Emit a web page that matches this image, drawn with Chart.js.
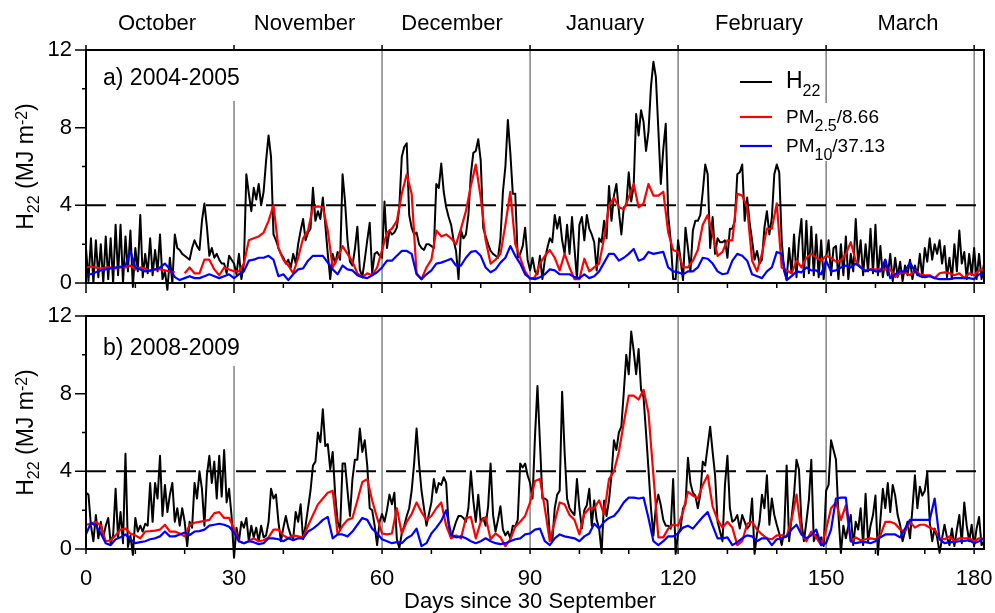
<!DOCTYPE html>
<html>
<head>
<meta charset="utf-8">
<title>H22 and PM ratios, 2004-2005 and 2008-2009</title>
<script src="https://cdn.jsdelivr.net/npm/chart.js@4.4.1/dist/chart.umd.min.js"></script>
<style>
  html, body { margin: 0; padding: 0; background: #fff; }
  #fig { position: relative; width: 995px; height: 613px; overflow: hidden; }
  #fig canvas { position: absolute; left: 0; }
  #panelA { top: 0; }
  #panelB { top: 300px; }
</style>
</head>
<body>
<div id="fig">
  <canvas id="panelA" width="995" height="300"></canvas>
  <canvas id="panelB" width="995" height="313"></canvas>
</div>
<script>
// ---- data ----
const DAY_MAX = 182;
const H22_STEP = 0.5;   // H22 is plotted twice a day
const PM_STEP = 1;      // the PM ratios are daily
const X_TICKS = [0, 30, 60, 90, 120, 150, 180];
const X_MINOR_STEP = 10;
const Y_TICKS = [0, 4, 8, 12];
const Y_MINOR = [2, 6, 10];
const MONTHS = ['October', 'November', 'December', 'January', 'February', 'March'];
const MONTH_MID = [14.4, 44.3, 74.2, 105.2, 136.4, 166.6];   // day each month name sits on
const THRESHOLD = 4;

// 2004-2005
const H22_0405 = [
  1.8,0.1, 2.3,0, 2.2,0.3, 2.0,0, 2.4,0.2, 2.3,0, 3.0,0.4, 3.0,0, 2.4,0.6, 2.7,-0.2,
  1.8,0.6, 3.5,0.3, 1.5,0.5, 2.3,0.4, 1.7,0.6, 2.5,0.2, 0.6,-0.35, 1.3,0, 2.5,1.8, 1.7,1.5,
  1.4,1.3, 1.2,1.8, 2.2,1.9, 1.7,3.2, 4.1,2.9, 1.4,1.8, 1.3,1.5, 1.2,1.0, 1.0,0.5, 1.4,1.2,
  1.0,0.45, 1.5,0.2, 1.0,5.6, 4.6,3.7, 4.9,4.3, 5.1,4.0, 4.7,6.3, 7.6,6.5, 2.5,2.2, 1.8,1.5,
  1.3,1.0, 1.2,0.8, 1.5,1.0, 2.0,2.7, 3.3,2.2, 2.6,2.8, 4.9,3.2, 3.7,3.3, 4.4,3.0, 1.5,0.2,
  1.5,1.0, 1.6,1.2, 5.6,4.2, 2.2,1.1, 0.9,1.75, 2.9,0.7, 0.3,1.2, 2.2,3.1, 0.5,1.5, 1.6,1.4,
  1.3,4.2, 1.8,2.7, 2.5,2.6, 2.85,3.9, 6.5,7.0, 7.2,3.5, 2.85,2.5, 2.6,2.0, 1.8,1.7, 2.0,2.0,
  1.9,1.8, 5.1,4.9, 6.15,4.7, 3.9,3.4, 3.0,2.2, 1.65,0.2, 2.7,2.3, 2.5,3.5, 5.6,6.7, 6.8,7.4,
  6.3,2.85, 2.4,2.0, 1.65,1.5, 1.4,1.3, 2.3,4.7, 6.0,8.4, 6.7,4.6, 4.6,1.3, 1.5,1.9, 2.85,1.2,
  0.65,1.3, 0.6,0.45, 1.4,0.2, 1.2,1.8, 2.3,2.1, 3.5,2.8, 3.4,2.2, 1.5,3.0, 1.5,3.4, 1.8,0.2,
  3.0,3.4, 2.2,3.5, 2.8,2.5, 2.1,0.65, 2.3,2.1, 3.2,2.3, 5.0,3.2, 4.5,5.1, 3.7,2.5, 3.9,4.0,
  5.7,4.2, 5.0,8.7, 7.6,8.9, 8.3,6.8, 7.8,10.1, 11.4,10.6, 7.9,5.1, 6.9,8.2, 3.5,2.2, 0.2,0.2,
  2.2,1.2, 0.15,2.85, 1.8,0.6, 2.7,3.2, 3.2,3.5, 4.7,6.1, 5.6,1.8, 3.4,1.5, 2.3,2.1, 2.1,2.2,
  1.3,2.8, 2.8,3.2, 5.6,5.7, 6.1,3.2, 4.4,3.1, 2.2,1.2, 1.65,1.0, 1.2,2.85, 3.7,2.5, 3.35,5.6,
  6.1,5.7, 2.2,0.6, 0.2,1.8, 0.5,2.5, 0.3,2.2, 3.3,0.3, 3.2,0.5, 2.9,0.4, 2.5,0.3, 2.2,0.2,
  1.3,2.2, 0.4,1.8, 1.9,0.2, 2.0,0.4, 2.4,0.2, 1.5,0.6, 3.3,1.0, 2.2,0.4, 2.0,0.6, 2.8,0.5,
  3.0,0.4, 1.9,0.3, 1.2,0.4, 1.5,0.1, 1.3,0.3, 1.1,0.1, 0.9,0.4, 1.2,0.2, 0.9,0.4, 1.5,0.3,
  1.8,1.1, 2.3,1.2, 2.0,1.5, 2.2,1.0, 1.9,0.3, 1.3,0.2, 2.0,0.6, 2.7,1.0, 1.6,0.2, 1.5,0.4,
  1.8,0.2, 1.5,0.2, 1.0
];
const PM25_0405 = [
  0.8,0.85,0.8,0.75,0.8,0.8,0.75,0.85,0.8,0.9,
  0.7,0.8,0.75,0.6,0.7,0.7,0.65,0.6,0.55,null,
  0.5,0.8,0.5,0.5,1.2,1.2,0.7,0.4,0.8,0.7,
  0.6,0.6,1.0,2.2,2.3,2.4,2.6,3.2,4.0,1.8,
  1.2,0.9,0.5,1.3,2.3,2.7,3.9,3.95,3.9,2.7,
  0.8,1.3,1.9,1.5,1.1,0.5,0.3,0.5,0.4,0.8,
  1.7,2.6,2.8,3.2,4.6,5.6,4.6,0.5,0.2,0.8,
  1.2,2.7,2.4,2.5,2.3,2.0,2.8,3.7,5.0,6.1,
  4.4,2.2,1.0,1.2,1.5,3.0,4.7,2.0,1.3,0.6,
  0.2,0.3,1.0,1.4,1.7,1.3,0.65,1.5,0.8,0.2,
  0.2,1.25,0.6,0.8,1.0,2.3,4.0,4.4,3.9,3.8,
  4.4,5.1,3.9,4.1,5.1,4.5,4.5,4.7,2.6,1.7,
  1.6,0.8,0.8,1.15,1.7,3.0,3.5,2.5,1.4,1.6,
  2.2,2.2,4.6,4.5,3.9,1.15,0.6,1.5,2.8,2.8,
  4.1,0.8,0.65,0.5,1.15,0.8,1.3,1.5,1.3,1.15,
  1.4,1.3,1.1,1.15,1.5,2.1,1.15,0.8,0.65,0.7,
  0.7,0.7,0.7,0.7,0.3,0.5,0.55,0.4,0.65,0.45,
  0.4,0.4,0.25,0.5,0.55,0.5,0.4,0.5,0.25,0.5,
  0.4,0.65,0.7
];
const PM10_0405 = [
  0.45,0.45,0.55,0.65,0.7,0.75,0.8,0.8,0.9,1.65,
  0.8,0.7,0.6,0.65,0.7,0.8,1.0,0.7,0.3,0.15,
  0.25,0.35,0.25,0.25,0.35,0.45,0.35,0.25,0.35,0.45,
  0.25,0.45,0.6,1.15,1.2,1.3,1.3,1.4,1.2,0.35,
  0.45,0.15,0.45,0.7,0.75,1.15,1.4,1.4,1.4,1.05,
  0.7,0.45,0.9,0.7,0.65,0.4,0.3,0.25,0.4,0.55,
  0.8,1.15,1.15,1.4,1.65,1.65,1.5,0.45,0.2,0.45,
  0.65,1.0,1.05,1.15,1.25,0.9,0.9,1.3,1.6,1.65,
  1.4,0.8,0.55,0.7,1.05,1.3,1.9,1.4,1.0,0.45,
  0.25,0.2,0.3,0.45,0.7,0.65,0.45,0.45,0.45,0.3,
  0.25,0.45,0.25,0.35,0.6,1.05,1.5,1.5,1.15,1.3,
  1.5,1.75,1.15,1.25,1.6,1.5,1.55,1.6,0.8,0.6,
  0.55,0.45,0.6,0.6,0.8,1.3,1.25,1.0,0.6,0.45,
  0.5,1.15,1.5,1.4,1.15,0.45,0.35,0.25,0.6,0.8,
  1.6,1.5,0.15,0.35,0.6,0.55,0.8,0.65,0.65,0.45,
  1.15,0.6,0.65,0.8,0.9,0.8,1.0,0.8,0.6,0.7,
  0.6,0.6,1.2,0.25,0.45,0.6,0.6,1.05,0.6,0.35,
  0.3,0.35,0.25,0.2,0.2,0.2,0.25,0.25,0.25,0.25,
  0.2,0.45,0.45
];

// 2008-2009
const H22_0809 = [
  2.9,2.8, 1.2,0.4, 1.75,0.55, 1.4,0.6, 1.2,1.6, 0.3,0.7, 3.1,0.6, 1.9,0.3, 4.9,0.1, 0.7,-0.3,
  1.6,0.9, 1.2,0.9, 1.3,1.2, 3.4,1.4, 3.4,2.6, 4.8,1.7, 3.3,1.9, 2.8,3.4, 1.4,2.1, 1.2,2.1,
  1.4,0.15, 1.4,1.1, 3.4,2.6, 4.0,3.1, 1.2,3.8, 4.8,3.4, 4.5,2.6, 4.8,2.7, 5.1,2.4, 3.1,1.7,
  -0.45,1.1, 0.4,1.4, 1.1,1.6, 0.4,1.2, 0.6,1.1, 0.4,1.2, 0.6,0.7, 1.4,3.1, 2.6,2.8, 1.4,0.4,
  1.1,1.7, 1.1,0.7, 0.55,1.9, 1.4,2.3, 0.5,1.2, 2.1,3.0, 4.3,4.5, 6.0,5.5, 7.2,5.3, 5.4,4.1,
  5.0,2.8, 1.4,1.0, 4.4,4.4, 3.0,1.7, 3.6,4.6, 4.6,6.2, 5.0,5.6, 4.3,2.1, 2.0,1.2, 0.2,1.4,
  1.8,1.4, 2.0,2.8, 2.3,2.9, 0.5,0.05, 0.8,1.2, 1.7,2.1, 3.0,4.4, 6.2,4.4, 3.0,2.1, 1.2,1.8,
  2.4,3.6, 2.9,3.4, 3.3,3.7, 3.4,1.2, 0.55,1.0, 1.4,1.7, 1.7,1.6, 1.4,2.1, 4.0,2.5, 1.4,2.8,
  1.4,1.6, 1.2,2.2, 4.4,1.75, 0.9,1.5, 2.2,1.0, 0.7,0.9, 0.55,1.2, 1.15,1.5, 4.4,4.2, 4.4,3.8,
  3.4,2.6, 5.8,8.4, 5.5,2.6, 2.6,2.5, 0.7,0.4, 2.1,2.8, 3.0,8.1, 5.0,2.6, 2.1,1.9, 1.75,3.6,
  2.1,1.05, 2.0,2.25, 3.1,1.2, 2.5,1.5, 1.05,-0.2, 2.5,1.7, 2.5,3.8, 5.6,5.1, 6.0,6.3, 8.1,10.0,
  9.0,11.2, 10.2,9.0, 10.3,8.2, 7.8,6.0, 4.1,2.1, 0.7,2.2, 2.8,2.25, 1.5,1.2, 1.2,1.05, 3.6,-0.25,
  0.8,1.05, 2.1,2.3, 4.7,3.4, 2.9,2.75, 2.1,2.8, 4.5,4.3, 5.3,6.3, 5.0,3.8, 1.4,0.9, 0.4,3.3,
  4.8,2.1, 1.4,1.5, 1.75,1.05, 1.75,1.4, 1.05,1.2, 2.6,-0.25, 0.8,1.4, 2.8,2.1, 3.8,1.25, 2.6,1.75,
  1.25,0.8, 0.2,0.9, 4.3,0.4, 1.6,2.8, 4.6,4.1, 1.4,0.4, 1.4,2.5, 4.6,0.4, 0.75,0.4, 0.6,0.15,
  3.0,3.3, 5.6,5.1, 4.6,1.75, -0.2,1.2, 0.55,1.2, 1.75,0.2, 1.4,1.0, 2.1,0.2, 2.85,0.4, 1.2,1.75,
  2.75,-0.3, 1.5,3.1, 2.1,3.4, 1.9,3.3, 2.75,1.75, 1.25,0.4, 0.9,1.4, 0.55,2.1, 3.8,2.1, 3.2,2.75,
  3.0,3.95, 1.4,0.4, 1.05,0.6, -0.2,0.55, 1.25,0.6, 0.2,1.05, 0.15,1.0, 1.75,0.3, 2.4,1.2, 0.4,1.25,
  0.15,1.05, 1.65,0.2, 0.4
];
const PM25_0809 = [
  1.25,1.3,1.4,1.2,0.4,0.45,0.7,1.0,1.05,0.8,
  0.7,0.55,0.9,0.92,0.95,1.0,1.25,0.9,0.9,0.8,
  0.65,1.25,1.35,1.4,1.45,1.5,1.85,1.9,1.6,1.6,
  1.05,0.4,0.3,0.4,0.55,0.4,0.45,0.6,1.0,1.0,
  0.7,0.55,0.7,0.65,0.6,1.2,1.75,2.3,2.6,2.9,
  3.0,0.75,1.2,1.5,1.6,2.5,3.45,3.6,2.5,1.6,
  0.8,0.75,0.8,2.1,0.8,1.4,1.8,2.4,1.9,1.5,
  1.7,2.1,2.4,1.2,0.55,0.7,0.55,1.6,1.65,0.55,
  1.4,1.65,0.5,0.8,0.6,0.15,0.5,1.15,1.4,1.7,
  2.4,3.5,3.6,2.1,0.4,1.4,2.4,2.3,1.75,1.5,
  0.75,1.8,2.1,2.1,2.5,1.8,3.6,4.0,5.0,6.5,
  7.9,7.9,7.7,8.2,7.0,3.8,0.6,0.6,1.05,1.25,
  1.2,1.9,2.95,2.75,2.6,3.3,3.8,2.2,1.5,1.1,
  1.4,1.1,0.2,0.4,1.3,1.4,1.0,0.75,0.55,0.5,
  0.7,0.7,0.65,1.5,2.8,0.8,0.4,0.9,0.6,0.2,
  1.0,2.1,2.4,1.5,2.25,0.4,0.6,0.45,0.5,0.55,
  0.5,0.7,1.4,1.4,1.3,1.0,0.9,1.4,1.1,1.25,
  1.25,1.1,1.0,0.55,0.5,0.65,0.4,0.55,0.55,0.55,
  0.4,0.55,0.52
];
const PM10_0809 = [
  0.75,1.35,1.2,0.8,0.3,0.2,0.5,0.6,0.75,0.5,
  0.3,0.35,0.4,0.5,0.55,0.65,0.9,0.65,0.65,0.75,
  0.85,0.72,0.9,0.92,1.0,1.2,1.25,1.3,1.25,1.15,
  0.85,0.4,0.3,0.4,0.35,0.25,0.3,0.55,0.55,0.5,
  0.4,0.55,0.45,0.55,0.55,0.9,1.05,1.25,1.5,1.65,
  0.55,0.75,0.75,0.65,0.9,1.25,1.6,1.5,1.05,0.8,
  0.5,0.4,0.3,0.35,0.3,0.55,0.7,1.05,0.15,0.3,
  0.8,1.1,1.45,2.0,0.75,0.6,0.65,0.55,0.4,0.3,
  0.4,0.55,0.4,0.3,0.25,0.3,0.4,0.5,0.55,0.75,
  0.8,1.0,1.05,0.4,0.2,0.55,0.75,0.65,0.6,0.55,
  0.4,0.65,0.8,1.3,1.05,1.4,1.6,1.7,2.0,2.4,
  2.65,2.65,2.6,2.65,1.6,0.4,0.2,0.4,0.65,0.65,
  0.8,1.1,1.2,1.05,1.35,1.65,1.9,1.2,0.55,0.55,
  0.6,0.2,0.35,0.55,0.7,0.65,0.4,0.55,0.55,0.2,
  0.5,0.55,0.65,1.0,1.25,0.75,0.55,0.7,1.0,0.2,
  0.3,1.0,2.6,2.65,2.65,0.4,0.3,0.35,0.35,0.3,
  0.4,0.6,0.75,0.75,0.75,0.6,1.05,1.5,1.5,1.5,
  1.5,1.5,2.6,0.5,0.3,0.35,0.35,0.4,0.42,0.45,
  0.3,0.4,0.55
];

// ---- drawing ----
const FONT = "'Liberation Sans', Arial, Helvetica, sans-serif";
const font = px => px + 'px ' + FONT;

// rich text: [text, size, baseline shift]
const LEGEND = [
  { color: '#000000', width: 2, parts: [['H', 23, 0], ['22', 16, 8]] },
  { color: '#ff0000', width: 2.2, parts: [['PM', 19, 0], ['2.5', 16, 8], ['/8.66', 19, 0]] },
  { color: '#0000ff', width: 2.2, parts: [['PM', 19, 0], ['10', 16, 8], ['/37.13', 19, 0]] },
];
const Y_TITLE = [['H', 23, 0], ['22', 16, 6], [' (MJ m', 23, 0], ['-2', 16, -6], [')', 23, 0]];

function richWidth(ctx, parts) {
  return parts.reduce((w, p) => { ctx.font = font(p[1]); return w + ctx.measureText(p[0]).width; }, 0);
}
function drawRich(ctx, parts, x, y) {
  ctx.textAlign = 'left';
  ctx.textBaseline = 'alphabetic';
  parts.forEach(p => {
    ctx.font = font(p[1]);
    ctx.fillText(p[0], x, y + p[2]);
    x += ctx.measureText(p[0]).width;
  });
}

const decor = {
  id: 'decor',
  beforeDatasetsDraw(chart, args, o) {
    const { ctx, chartArea: a, scales: { x, y } } = chart;
    ctx.save();
    // month separators
    ctx.strokeStyle = '#555';
    ctx.lineWidth = 1.1;
    ctx.beginPath();
    X_TICKS.forEach(d => {
      if (d === 0) return;
      const px = x.getPixelForValue(d);
      ctx.moveTo(px, a.top);
      ctx.lineTo(px, a.bottom);
    });
    ctx.stroke();
    // white backing behind panel label and legend rows
    ctx.fillStyle = '#fff';
    ctx.fillRect(a.left + 8, a.top + 1, 158, o.labelBoxBottom - a.top);
    if (o.legend) {
      LEGEND.forEach((row, i) => {
        if (i === 0) return;
        const w = richWidth(ctx, row.parts);
        ctx.fillRect(784, o.legendY[i] - 20, w + 6, 29);
      });
    }
    // threshold
    ctx.strokeStyle = '#000';
    ctx.lineWidth = 2;
    ctx.setLineDash([20, 10]);
    const ty = y.getPixelForValue(THRESHOLD);
    ctx.beginPath();
    ctx.moveTo(a.left, ty);
    ctx.lineTo(a.right, ty);
    ctx.stroke();
    ctx.restore();
  },
  afterDatasetsDraw(chart, args, o) {
    const { ctx, chartArea: a, scales: { x, y } } = chart;
    ctx.save();
    ctx.strokeStyle = '#000';
    ctx.fillStyle = '#000';
    ctx.lineWidth = 2;
    ctx.strokeRect(a.left, a.top, a.right - a.left, a.bottom - a.top);

    ctx.lineWidth = 1.5;
    ctx.beginPath();
    Y_TICKS.forEach(v => { const py = y.getPixelForValue(v); ctx.moveTo(a.left, py); ctx.lineTo(a.left - 11, py); });
    Y_MINOR.forEach(v => { const py = y.getPixelForValue(v); ctx.moveTo(a.left, py); ctx.lineTo(a.left - 4, py); });
    for (let d = 0; d <= X_TICKS[X_TICKS.length - 1]; d += X_MINOR_STEP) {
      const px = x.getPixelForValue(d);
      const len = X_TICKS.includes(d) ? o.majorTick : 5;
      ctx.moveTo(px, a.bottom);
      ctx.lineTo(px, a.bottom + len);
    }
    if (o.topTicks) {
      X_TICKS.forEach(d => { const px = x.getPixelForValue(d); ctx.moveTo(px, a.top); ctx.lineTo(px, a.top - 5); });
    }
    ctx.stroke();

    // panel label
    ctx.font = font(23);
    ctx.textAlign = 'left';
    ctx.textBaseline = 'alphabetic';
    ctx.fillText(o.label, a.left + 17, o.labelBaseline);

    // month names
    if (o.months) {
      ctx.font = font(22);
      ctx.textAlign = 'center';
      MONTHS.forEach((m, i) => ctx.fillText(m, x.getPixelForValue(MONTH_MID[i]), 30));
    }

    // legend
    if (o.legend) {
      LEGEND.forEach((row, i) => {
        ctx.strokeStyle = row.color;
        ctx.lineWidth = row.width;
        ctx.beginPath();
        ctx.moveTo(740, o.legendLineY[i]);
        ctx.lineTo(772, o.legendLineY[i]);
        ctx.stroke();
        drawRich(ctx, row.parts, 786, o.legendY[i]);
      });
    }

    // y title
    const w = richWidth(ctx, Y_TITLE);
    ctx.save();
    ctx.translate(32.5, (a.top + a.bottom) / 2);
    ctx.rotate(-Math.PI / 2);
    drawRich(ctx, Y_TITLE, -w / 2, 0);
    ctx.restore();

    // x title
    if (o.xTitle) {
      ctx.font = font(22);
      ctx.textAlign = 'center';
      ctx.textBaseline = 'alphabetic';
      const cx = (a.left + x.getPixelForValue(X_TICKS[X_TICKS.length - 1])) / 2;
      ctx.fillText(o.xTitle, cx, 308);
    }
    ctx.restore();
  }
};

function points(values, step) {
  return values.map((v, i) => ({ x: i * step, y: v }));
}

function makePanel(id, series, cfg) {
  const clip = { left: 1, top: 1, right: 1, bottom: 10 };
  return new Chart(document.getElementById(id), {
    type: 'line',
    data: {
      datasets: [
        { label: 'H22', data: points(series.h22, H22_STEP), borderColor: '#000000', borderWidth: 2, order: 3, clip },
        { label: 'PM2.5/8.66', data: points(series.pm25, PM_STEP), borderColor: '#ff0000', borderWidth: 2.2, order: 2, clip },
        { label: 'PM10/37.13', data: points(series.pm10, PM_STEP), borderColor: '#0000ff', borderWidth: 2.2, order: 1, clip },
      ],
    },
    options: {
      responsive: false,
      animation: false,
      events: [],
      elements: { point: { radius: 0 }, line: { tension: 0, borderJoinStyle: 'round', fill: false } },
      layout: { padding: { top: cfg.padTop, right: 11, left: 0, bottom: 0 } },
      plugins: { legend: { display: false }, tooltip: { enabled: false }, decor: cfg.decor },
      scales: {
        x: {
          type: 'linear', min: 0, max: DAY_MAX,
          afterBuildTicks: s => { s.ticks = X_TICKS.map(v => ({ value: v })); },
          afterFit: s => { s.height = cfg.xHeight; s.paddingLeft = 0; s.paddingRight = 0; },
          grid: { display: false, drawTicks: false },
          border: { display: false },
          ticks: { display: cfg.xLabels, font: { family: FONT, size: 22 }, color: '#000', padding: 17, maxRotation: 0 },
        },
        y: {
          min: 0, max: 12,
          afterBuildTicks: s => { s.ticks = Y_TICKS.map(v => ({ value: v })); },
          afterFit: s => { s.width = 86; s.paddingTop = 0; s.paddingBottom = 0; },
          grid: { display: false, drawTicks: false },
          border: { display: false },
          ticks: { font: { family: FONT, size: 22 }, color: '#000', padding: 14 },
        },
      },
    },
    plugins: [decor],
  });
}

makePanel('panelA', { h22: H22_0405, pm25: PM25_0405, pm10: PM10_0405 }, {
  padTop: 50, xHeight: 17, xLabels: false,
  decor: {
    label: 'a) 2004-2005', labelBaseline: 85, labelBoxBottom: 100,
    majorTick: 10, topTicks: true, months: true,
    legend: true, legendY: [88, 123, 152], legendLineY: [82, 117, 146],
    xTitle: null,
  },
});

makePanel('panelB', { h22: H22_0809, pm25: PM25_0809, pm10: PM10_0809 }, {
  padTop: 16, xHeight: 64, xLabels: true,
  decor: {
    label: 'b) 2008-2009', labelBaseline: 55, labelBoxBottom: 65,
    majorTick: 5, topTicks: false, months: false,
    legend: false, xTitle: 'Days since 30 September',
  },
});
</script>
</body>
</html>
